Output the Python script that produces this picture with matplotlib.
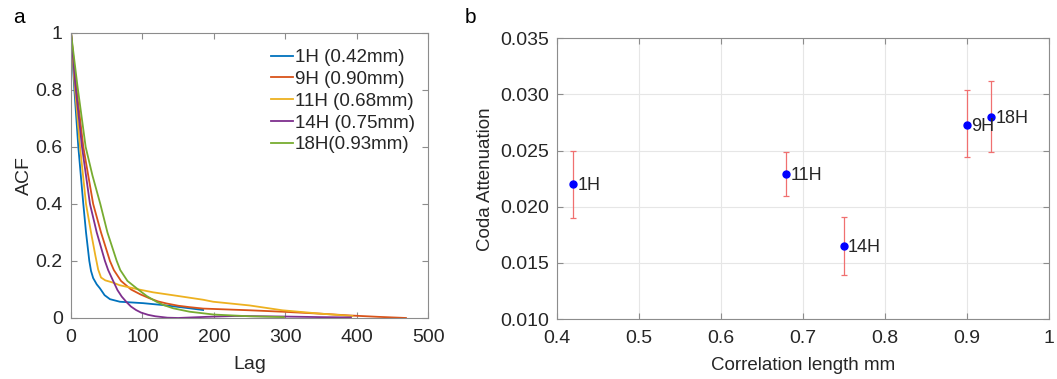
import matplotlib.pyplot as plt

plt.rcParams["font.family"] = ["Liberation Sans", "DejaVu Sans"]

# panel a: autocorrelation curves
lag_1h = [0, 4.2, 10.2, 17.2, 21, 25.6, 28, 31, 36, 40.5, 47, 54.5, 68.4, 101, 130, 166, 185]
acf_1h = [1, 0.818, 0.6, 0.4, 0.3, 0.2, 0.165, 0.14, 0.118, 0.104, 0.08, 0.066, 0.057, 0.052, 0.045, 0.034, 0.028]

lag_9h = [0, 7, 17.2, 31, 42, 54.5, 60, 70, 84, 97, 110, 122, 133.6, 150, 166, 185, 250, 296, 350, 389, 430, 469]
acf_9h = [1, 0.818, 0.6, 0.4, 0.3, 0.2, 0.168, 0.13, 0.1, 0.083, 0.069, 0.058, 0.051, 0.043, 0.038, 0.033, 0.027, 0.022, 0.015, 0.009, 0.004, 0.0]

lag_11h = [0, 5, 12.6, 21, 28, 34, 38, 42, 48, 59, 68, 95, 115, 145, 185, 199, 250, 296, 350, 394]
acf_11h = [1, 0.818, 0.6, 0.4, 0.3, 0.22, 0.17, 0.142, 0.132, 0.124, 0.115, 0.1, 0.09, 0.079, 0.064, 0.057, 0.044, 0.027, 0.015, 0.007]

lag_14h = [0, 6, 15.4, 26.5, 36, 47.5, 52, 59, 65, 71, 78, 84, 91, 98, 108, 118, 135, 150, 190, 230, 300, 350, 392]
acf_14h = [1, 0.818, 0.6, 0.4, 0.3, 0.2, 0.168, 0.13, 0.098, 0.075, 0.055, 0.04, 0.028, 0.019, 0.011, 0.006, 0.001, 0.0, 0.004, 0.007, 0.005, 0.003, 0.002]

lag_18h = [0, 8.8, 20.5, 30, 41, 51, 64, 69, 79, 94, 106, 119.6, 130, 143, 166, 200, 250, 298]
acf_18h = [1, 0.818, 0.6, 0.5, 0.4, 0.3, 0.2, 0.168, 0.13, 0.1, 0.077, 0.057, 0.045, 0.034, 0.022, 0.012, 0.006, 0.003]

curve_labels = ["1H (0.42mm)", "9H (0.90mm)", "11H (0.68mm)", "14H (0.75mm)", "18H(0.93mm)"]
curve_colors = ["#0072BD", "#D95319", "#EDB120", "#7E2F8E", "#77AC30"]

# panel b: coda attenuation vs correlation length
samples = ["1H", "11H", "14H", "9H", "18H"]
corr_len = [0.42, 0.68, 0.75, 0.90, 0.93]
coda_att = [0.0220, 0.0229, 0.0165, 0.0273, 0.0280]
err_low = [0.0190, 0.0210, 0.0139, 0.0244, 0.0249]
err_high = [0.0250, 0.0249, 0.0191, 0.0304, 0.0312]

text_color = "#262626"
spine_color = "#8c8c8c"


def style_axes(ax):
    for sp in ax.spines.values():
        sp.set_color(spine_color)
        sp.set_linewidth(0.8)
    ax.tick_params(direction="in", top=True, right=True, labelsize=14,
                   colors=spine_color, labelcolor=text_color, length=4, width=0.8)
    ax.tick_params(axis="x", pad=8)
    ax.tick_params(axis="y", pad=6)


fig = plt.figure(figsize=(10.57, 3.79), dpi=100)

ax1 = fig.add_axes([0.0672, 0.161, 0.3378, 0.752])
curves = [(lag_1h, acf_1h), (lag_9h, acf_9h), (lag_11h, acf_11h),
          (lag_14h, acf_14h), (lag_18h, acf_18h)]
for (lg, ac), lab, col in zip(curves, curve_labels, curve_colors):
    ax1.plot(lg, ac, color=col, linewidth=1.3, label=lab)
ax1.set_xlim(0, 500)
ax1.set_ylim(0, 1)
ax1.set_xticks([0, 100, 200, 300, 400, 500])
ax1.set_yticks([0, 0.2, 0.4, 0.6, 0.8, 1])
ax1.set_yticklabels(["0", "0.2", "0.4", "0.6", "0.8", "1"])
ax1.set_xlabel("Lag", fontsize=14, color=text_color, labelpad=7)
ax1.set_ylabel("ACF", fontsize=14, color=text_color, labelpad=2)
style_axes(ax1)
leg = ax1.legend(loc="upper right", frameon=False, fontsize=13.5, handlelength=1.2,
                 handletextpad=0.1, borderaxespad=0.3, labelspacing=0.25,
                 bbox_to_anchor=(1.0, 0.99))
for t in leg.get_texts():
    t.set_color(text_color)

ax2 = fig.add_axes([0.527, 0.158, 0.465, 0.741])
yerr = [[c - lo for c, lo in zip(coda_att, err_low)],
        [hi - c for c, hi in zip(coda_att, err_high)]]
ax2.errorbar(corr_len, coda_att, yerr=yerr, fmt="none", ecolor="#f07070",
             elinewidth=0.9, capsize=2, capthick=0.9, zorder=2)
ax2.plot(corr_len, coda_att, "o", color="#0000ff", markersize=5, zorder=3)
for name, x, y in zip(samples, corr_len, coda_att):
    ax2.annotate(name, (x, y), xytext=(3, -1), textcoords="offset points",
                 fontsize=13, color=text_color, va="center", ha="left")
ax2.set_xlim(0.4, 1)
ax2.set_ylim(0.010, 0.035)
ax2.set_xticks([0.4, 0.5, 0.6, 0.7, 0.8, 0.9, 1])
ax2.set_xticklabels(["0.4", "0.5", "0.6", "0.7", "0.8", "0.9", "1"])
ax2.set_yticks([0.010, 0.015, 0.020, 0.025, 0.030, 0.035])
ax2.set_yticklabels(["0.010", "0.015", "0.020", "0.025", "0.030", "0.035"])
ax2.grid(True, color="#e6e6e6", linewidth=0.8)
ax2.set_axisbelow(True)
ax2.set_xlabel("Correlation length mm", fontsize=13.5, color=text_color, labelpad=7)
ax2.set_ylabel("Coda Attenuation", fontsize=13.5, color=text_color, labelpad=4)
style_axes(ax2)

fig.text(0.012, 0.955, "a", fontsize=15, color="black", va="center")
fig.text(0.440, 0.955, "b", fontsize=15, color="black", va="center")

fig.savefig("out.png", dpi=100)
